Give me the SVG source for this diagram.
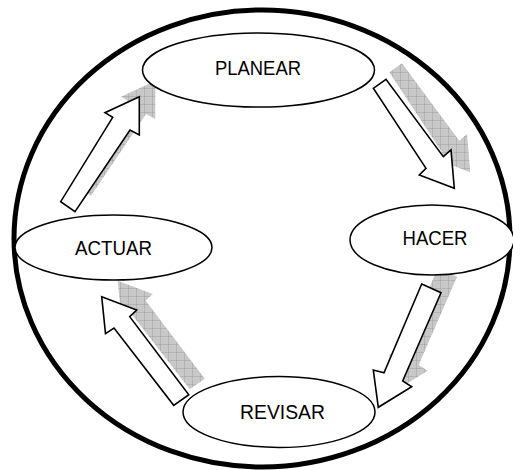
<svg xmlns="http://www.w3.org/2000/svg" width="513" height="470" viewBox="0 0 513 470">
  <defs>
    <!-- light grey cross-hatched fill used for the arrow shadows -->
    <pattern id="hatch" patternUnits="userSpaceOnUse" width="8" height="8">
      <rect width="8" height="8" fill="#c8c8c8"/>
      <path d="M0 0H8M0 0V8" stroke="#8f8f8f" stroke-width="0.7" fill="none"/>
    </pattern>
    <!-- block arrows, each pointing from one stage to the next -->
    <polygon id="arrow-a" points="139.3,96.7 105,112.7 112.7,117.3 60.7,201.7 75,211.7 130,130 139.3,135"/>
    <polygon id="arrow-b" points="373.3,88.3 386,79.3 443.3,156.7 451,150 454.3,188.3 419.3,175 426,168.3"/>
    <polygon id="arrow-c" points="421.7,284 441,292.7 402.7,381 411.7,386.7 378.3,407.3 373.3,370 384,372.7"/>
    <polygon id="arrow-d" points="101.7,296.7 136.7,310 129.7,316.7 188.8,394.7 173.7,405.3 114,328 105.5,333.7"/>
  </defs>
  <style>
    .frame { fill: none; stroke: #000; stroke-width: 5; }
    .stage { fill: #fff; stroke: #000; stroke-width: 1.5; }
    .label { font-family: "Liberation Sans", Arial, sans-serif; font-size: 20px; fill: #000; text-anchor: middle; }
    .shadow { fill: url(#hatch); stroke: none; }
    .arrow { fill: #fff; stroke: #000; stroke-width: 1.6; stroke-linejoin: miter; }
  </style>

  <rect width="513" height="470" fill="#fff"/>

  <!-- outer cycle boundary -->
  <ellipse class="frame" cx="262" cy="238.5" rx="248" ry="228.5"/>

  <!-- connectors: shadows first, then the outlined arrows -->
  <g id="connectors">
    <g transform="translate(16,-16)">
      <use href="#arrow-a" class="shadow"/>
      <use href="#arrow-b" class="shadow"/>
      <use href="#arrow-c" class="shadow"/>
      <use href="#arrow-d" class="shadow"/>
    </g>
    <use href="#arrow-a" class="arrow"/>
    <use href="#arrow-b" class="arrow"/>
    <use href="#arrow-c" class="arrow"/>
    <use href="#arrow-d" class="arrow"/>
  </g>

  <!-- stages -->
  <g id="planear">
    <ellipse class="stage" cx="258.5" cy="70" rx="116" ry="37"/>
    <text class="label" x="258" y="75" textLength="86" lengthAdjust="spacingAndGlyphs">PLANEAR</text>
  </g>
  <g id="hacer">
    <ellipse class="stage" cx="432" cy="240" rx="82" ry="35"/>
    <text class="label" x="435" y="245" textLength="65" lengthAdjust="spacingAndGlyphs">HACER</text>
  </g>
  <g id="revisar">
    <ellipse class="stage" cx="279" cy="412" rx="96" ry="35.5"/>
    <text class="label" x="282.5" y="419" textLength="85" lengthAdjust="spacingAndGlyphs">REVISAR</text>
  </g>
  <g id="actuar">
    <ellipse class="stage" cx="113.5" cy="247.5" rx="98.5" ry="32.5"/>
    <text class="label" x="113.5" y="255" textLength="77" lengthAdjust="spacingAndGlyphs">ACTUAR</text>
  </g>
</svg>
